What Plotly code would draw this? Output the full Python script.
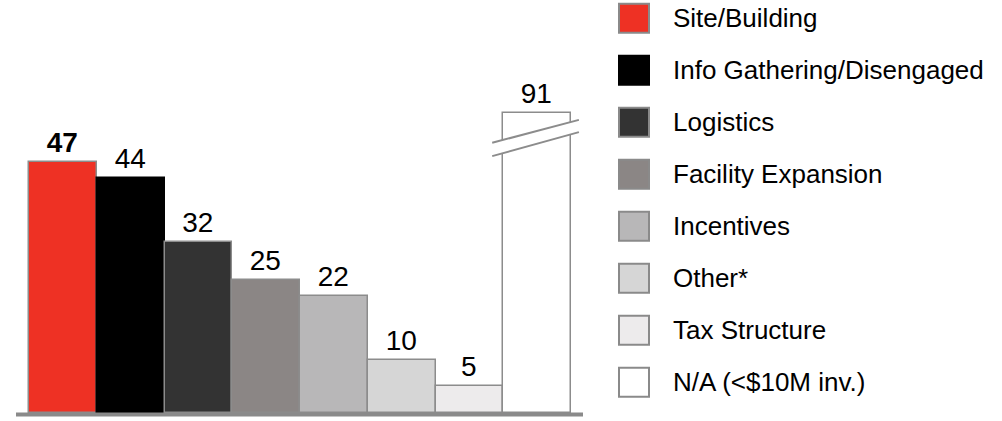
import plotly.graph_objects as go

# ---- data ----
categories = ["Site/Building", "Info Gathering/Disengaged", "Logistics",
              "Facility Expansion", "Incentives", "Other*", "Tax Structure",
              "N/A (<$10M inv.)"]
values = [47, 44, 32, 25, 22, 10, 5, 91]
label_texts = ["<b>47</b>", "44", "32", "25", "22", "10", "5", "91"]
break_cap = 56.3   # displayed height of the broken (axis-break) bar

# ---- styles ----
fills = ["#EE3124", "#000000", "#333333", "#8B8685", "#B8B7B8", "#D6D6D6", "#EDEBEC", "#FFFFFF"]
borders = ["#8C8C8C", "#000000", "#8C8C8C", "#8C8C8C", "#8C8C8C", "#8C8C8C", "#8C8C8C", "#8C8C8C"]
FONT = "Arial, 'Liberation Sans', Helvetica, sans-serif"

W, H = 1002, 421
px_per_unit = 5.33
bar_px = 67.7
plot_bottom_px = 413
plot_right_px = 600
first_bar_left_px = 29.3

x_idx = list(range(len(values)))
shown = [min(v, break_cap) for v in values]

fig = go.Figure()
fig.add_trace(go.Bar(
    x=x_idx, y=shown,
    marker=dict(color=fills, line=dict(color=borders, width=1.5)),
    text=label_texts, textposition="outside",
    textfont=dict(family=FONT, size=28, color="#000000"),
    cliponaxis=False, width=1.0, hoverinfo="skip",
))

x0_range = -0.5 - first_bar_left_px / bar_px
x1_range = x0_range + plot_right_px / bar_px
y_top = plot_bottom_px / px_per_unit

shapes = []
# axis break on the last bar
bi = len(values) - 1
lx0, lx1 = bi - 0.5 - 11 / bar_px, bi + 0.5 + 8 / bar_px
up = (50.7, 55.0)
lo = (48.2, 52.7)
shapes.append(dict(type="path", xref="x", yref="y",
                   path=f"M {lx0},{up[0]} L {lx1},{up[1]} L {lx1},{lo[1]} L {lx0},{lo[0]} Z",
                   fillcolor="#FFFFFF", line=dict(width=0), layer="above"))
for (a, b) in (up, lo):
    shapes.append(dict(type="line", xref="x", yref="y", x0=lx0, y0=a, x1=lx1, y1=b,
                       line=dict(color="#8C8C8C", width=2), layer="above"))
# baseline
shapes.append(dict(type="rect", xref="paper", yref="paper",
                   x0=16 / W, x1=583 / W, y0=(H - 416.5) / H, y1=(H - 412.5) / H,
                   fillcolor="#8A8A8A", line=dict(width=0), layer="above"))

# legend (custom)
annotations = []
sw_x0, sw_x1 = 619, 649
for i, (name, col) in enumerate(zip(categories, fills)):
    cy = 18.3 + 52 * i
    shapes.append(dict(type="rect", xref="paper", yref="paper",
                       x0=sw_x0 / W, x1=sw_x1 / W,
                       y0=(H - (cy + 14.5)) / H, y1=(H - (cy - 14.5)) / H,
                       fillcolor=col,
                       line=dict(color=("#000000" if col == "#000000" else "#8A8A8A"), width=2)))
    annotations.append(dict(xref="paper", yref="paper", x=671 / W, y=(H - cy) / H,
                            text=name, showarrow=False, xanchor="left", yanchor="middle",
                            font=dict(family=FONT, size=26, color="#000000")))

fig.update_layout(
    width=W, height=H,
    margin=dict(l=0, r=0, t=0, b=0),
    paper_bgcolor="white", plot_bgcolor="white",
    showlegend=False, bargap=0,
    xaxis=dict(domain=[0, plot_right_px / W], range=[x0_range, x1_range],
               showgrid=False, zeroline=False, showticklabels=False, showline=False, fixedrange=True),
    yaxis=dict(domain=[(H - plot_bottom_px) / H, 1], range=[0, y_top],
               showgrid=False, zeroline=False, showticklabels=False, showline=False, fixedrange=True),
    shapes=shapes, annotations=annotations,
)

fig.write_html("out.html")
